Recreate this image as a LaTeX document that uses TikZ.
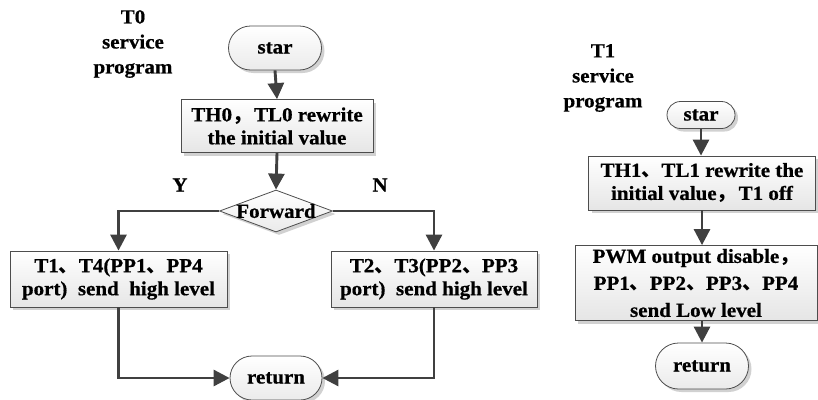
\documentclass[tikz,border=0pt]{standalone}
\usepackage{fontspec}
\setmainfont{Liberation Serif}[FakeStretch=1.05,FakeBold=0.6]
\newfontfamily\cjk{Noto Sans CJK SC}
\usetikzlibrary{shapes.misc,shapes.geometric,arrows.meta,shadows}
\definecolor{edge}{HTML}{4D4D4D}
\definecolor{arrc}{HTML}{404040}
\newcommand\zc{{\cjk ，}\hspace{2pt}}
\newcommand\zd{{\cjk 、}}
\begin{document}
\begin{tikzpicture}[x=1pt,y=-1pt,
  txt/.style={font=\fontsize{20}{23}\selectfont\bfseries, text=black, align=center},
  lbl/.style={font=\fontsize{20}{25}\selectfont\bfseries, text=black, align=center},
  shad/.style={drop shadow={shadow xshift=3pt,shadow yshift=-3pt,fill=black!18,opacity=1}},
  proc/.style={txt, rectangle, draw=edge, line width=0.8pt, top color=white, bottom color=black!10, shad, inner sep=0pt},
  term/.style={txt, rounded rectangle, draw=edge, line width=0.8pt, top color=white, bottom color=black!8, shad, inner sep=0pt},
  dec/.style={diamond, draw=edge, line width=0.8pt, top color=white, bottom color=black!8, shad, inner sep=0pt},
  arr/.style={draw=arrc, line width=2.9pt, -{Triangle[length=16pt,width=16pt]}}
]
\useasboundingbox (0,0) rectangle (818,399);

% ---- T0 service program ----
\node[lbl] (lab0) at (133,44) {T0\\service\\program};
\node[term, minimum width=93pt, minimum height=44pt] (star0) at (275,48) {star};
\node[proc, minimum width=192pt, minimum height=53pt] (box0) at (277,126) {TH0\zc TL0 rewrite\\the initial value};
\node[dec, minimum width=113pt, minimum height=42pt] (dec) at (276,211) {};
\node[txt] (dectxt) at (dec.center) {Forward};
\node[lbl] (ylab) at (180,185) {Y};
\node[lbl] (nlab) at (380,185) {N};
\node[proc, minimum width=217pt, minimum height=56pt] (boxL) at (118.5,279) {T1\zd T4(PP1\zd PP4\\port)\ \ send\ \ high level};
\node[proc, minimum width=206pt, minimum height=56pt] (boxR) at (434,279) {T2\zd T3(PP2\zd PP3\\port)\ \ send high level};
\node[term, minimum width=92pt, minimum height=44pt] (ret0) at (276,378) {return};

\draw[arr] (star0.south) -- (box0.north);
\draw[arr] (box0.south) -- (dec.north);
\draw[arr] (dec.west) -| (boxL.north);
\draw[arr] (dec.east) -| (boxR.north);
\draw[arr] (boxL.south) |- (ret0.west);
\draw[arr] (boxR.south) |- (ret0.east);

% ---- T1 service program ----
\node[lbl] (lab1) at (603,78) {T1\\service\\program};
\node[term, minimum width=68pt, minimum height=27pt] (star1) at (701,115) {star};
\node[proc, minimum width=227pt, minimum height=54pt] (box1) at (702,183) {TH1\zd TL1 rewrite the\\initial value\zc T1 off};
\node[proc, minimum width=242pt, minimum height=75pt, font=\fontsize{20}{27}\selectfont\bfseries] (box2) at (696,283) {PWM output disable\zc\\PP1\zd PP2\zd PP3\zd PP4\\send Low level};
\node[term, minimum width=93pt, minimum height=46pt] (ret1) at (702,366) {return};

\draw[arr] (star1.south) -- (star1.south |- box1.north);
\draw[arr] (box1.south) -- (box1.south |- box2.north);
\draw[arr] (ret1.north |- box2.south) -- (ret1.north);
\end{tikzpicture}
\end{document}
